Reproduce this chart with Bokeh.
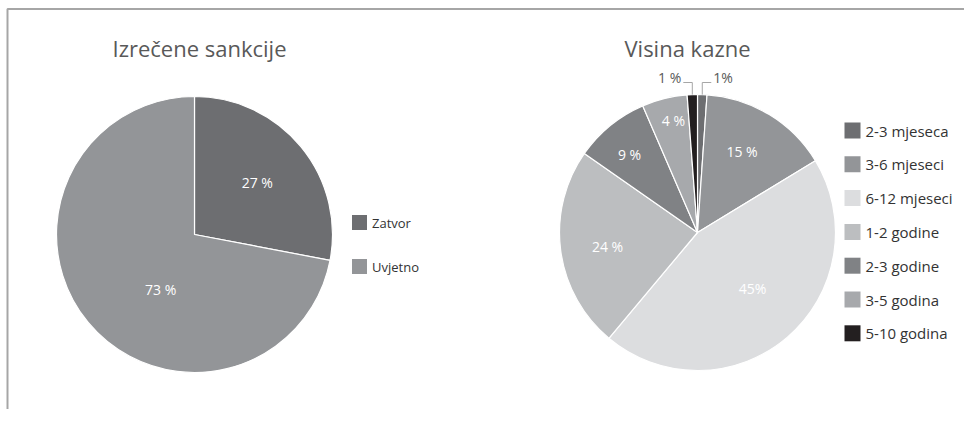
import numpy as np
from bokeh.plotting import figure
from bokeh.models import Range1d, ColumnDataSource
from bokeh.core.properties import value
from bokeh.embed import file_html
from bokeh.resources import INLINE

# ---------------- data ----------------
sank_title = "Izrečene sankcije"
sank_categories = ["Zatvor", "Uvjetno"]
sank_values = [28, 72]
sank_labels = ["27 %", "73 %"]

kazna_title = "Visina kazne"
kazna_categories = ["2-3 mjeseca", "3-6 mjeseci", "6-12 mjeseci", "1-2 godine",
                    "2-3 godine", "3-5 godina", "5-10 godina"]
kazna_values = [1.1, 15.2, 44.8, 23.6, 8.8, 5.3, 1.2]
kazna_labels = ["1%", "15 %", "45%", "24 %", "9 %", "4 %", "1 %"]

# ---------------- style / layout ----------------
sank_colors = ["#6d6e71", "#939598"]
kazna_colors = ["#6d6e71", "#939598", "#dcdddf", "#bcbec0", "#808285", "#a7a9ac", "#231f20"]

W, H = 964, 409
FONT = "Open Sans"
LABEL_FS = "14px"


def px(xp):  # picture x -> data x
    return xp


def py(yp):  # picture y -> data y
    return H - yp


p = figure(width=W, height=H, output_backend="svg", toolbar_location=None,
           x_range=Range1d(0, W), y_range=Range1d(0, H),
           x_axis_location=None, y_axis_location=None,
           min_border=0, min_border_left=0, min_border_right=0,
           min_border_top=0, min_border_bottom=0)
p.outline_line_color = None
p.grid.visible = False
p.background_fill_color = "white"
p.border_fill_color = "white"

# frame lines (left and top)
p.line(x=[px(7), px(7), W], y=[0, py(8.5), py(8.5)], line_color="#a6a6a6", line_width=2)


def pie(cx, cy, r, values, colors, labels, lab_frac, lab_shift, outside):
    v = np.array(values, dtype=float)
    frac = v / v.sum()
    cum = np.concatenate([[0.0], np.cumsum(frac)])
    th0 = cum[:-1] * 2 * np.pi
    th1 = cum[1:] * 2 * np.pi
    src = ColumnDataSource(dict(start=np.pi / 2 - th1, end=np.pi / 2 - th0,
                                color=list(colors)))
    p.wedge(x=cx, y=cy, radius=r, start_angle="start", end_angle="end",
            fill_color="color", line_color="white", line_width=1.2, source=src)
    mid = (th0 + th1) / 2
    ix, iy, it = [], [], []
    for i, lab in enumerate(labels):
        if i in outside:
            side = outside[i]
            t = mid[i]
            xe = cx + r * np.sin(t)
            ye = cy + r * np.cos(t)
            yel = cy + r + 12
            xh = xe + side * 9
            p.line(x=[xe, xe, xh], y=[ye, yel, yel], line_color="#a6a6a6", line_width=1)
            p.text(x=[xh + side * 2], y=[yel + 5], text=[lab],
                   text_font=value(FONT), text_font_size=value(LABEL_FS),
                   text_color="#595959",
                   text_align="left" if side > 0 else "right",
                   text_baseline="middle")
        else:
            t = mid[i] + np.deg2rad(lab_shift[i])
            ix.append(cx + lab_frac[i] * r * np.sin(t))
            iy.append(cy + lab_frac[i] * r * np.cos(t))
            it.append(lab)
    p.text(x=ix, y=iy, text=it, text_font=value(FONT), text_font_size=value(LABEL_FS),
           text_color="white", text_align="center", text_baseline="middle")


def legend(x0, y0, step, size, cats, colors, fs):
    ys = [y0 - i * step for i in range(len(cats))]
    p.rect(x=[x0] * len(cats), y=ys, width=size, height=size,
           fill_color=list(colors), line_color=None)
    p.text(x=[x0 + size / 2 + 5] * len(cats), y=ys, text=list(cats),
           text_font=value(FONT), text_font_size=value(fs), text_color="#333333",
           text_align="left", text_baseline="middle")


# left chart
p.text(x=[px(199)], y=[py(47)], text=[sank_title], text_font=value(FONT),
       text_font_size=value("22px"), text_color="#595959",
       text_align="center", text_baseline="middle")
pie(px(194), py(234), 138, sank_values, sank_colors, sank_labels,
    lab_frac=[0.59, 0.47], lab_shift=[0, -19], outside={})
legend(px(359), py(222), 44, 15, sank_categories, sank_colors, "13px")

# right chart
p.text(x=[px(687)], y=[py(47)], text=[kazna_title], text_font=value(FONT),
       text_font_size=value("22px"), text_color="#595959",
       text_align="center", text_baseline="middle")
pie(px(697), py(232), 138, kazna_values, kazna_colors, kazna_labels,
    lab_frac=[0, 0.67, 0.57, 0.66, 0.75, 0.83, 0],
    lab_shift=[0, -2.5, -3.6, -1.5, -1.8, 1.7, 0],
    outside={0: 1, 6: -1})
legend(px(852), py(130), 33.8, 16, kazna_categories, kazna_colors, "15px")

open("out.html", "w").write(file_html(p, INLINE))
